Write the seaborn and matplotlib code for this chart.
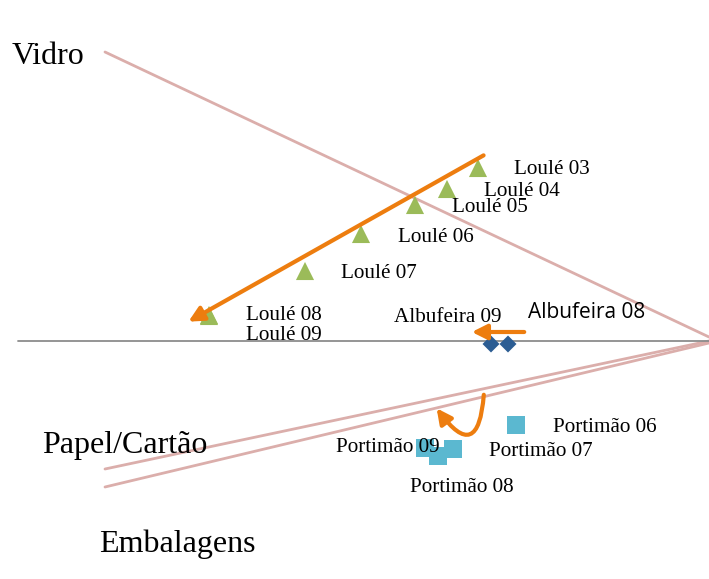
import numpy as np
import pandas as pd
import seaborn as sns
import matplotlib.pyplot as plt
from matplotlib.patches import FancyArrowPatch

# positions (pixel-like plane, y grows downwards)
loule_x = [478, 447, 415, 361, 305, 209, 209]
loule_y = [168, 189, 205, 234, 271, 315, 316]
loule_lab = ["Loulé 03", "Loulé 04", "Loulé 05", "Loulé 06", "Loulé 07", "Loulé 08", "Loulé 09"]
loule_tx = [514, 484, 452, 398, 341, 246, 246]
loule_ty = [170, 191, 207, 237, 273, 315, 336]

albu_x = [508, 491]
albu_y = [344, 344]
albu_lab = ["Albufeira 08", "Albufeira 09"]
albu_tx = [528, 394]
albu_ty = [313, 317]

port_x = [516, 453, 438, 425]
port_y = [425, 449, 456, 448]
port_lab = ["Portimão 06", "Portimão 07", "Portimão 08", "Portimão 09"]
port_tx = [553, 489, 410, 336]
port_ty = [427, 451, 487, 447]

axis_names = ["Vidro", "Papel/Cartão", "Embalagens"]
axis_tx = [12, 42, 99]
axis_ty = [57, 445, 544]

pts = pd.DataFrame({
    "x": loule_x + albu_x + port_x,
    "y": loule_y + albu_y + port_y,
    "grupo": ["Loulé"] * 7 + ["Albufeira"] * 2 + ["Portimão"] * 4,
})

sns.set_style("white")
fig = plt.figure(figsize=(7.09, 5.79), dpi=100)
ax = fig.add_axes([0, 0, 1, 1])

pink = "#dbaeab"
ax.plot([105, 709], [52, 337], color=pink, lw=2)
ax.plot([105, 709], [469, 341], color=pink, lw=2)
ax.plot([105, 709], [487, 343], color=pink, lw=2)
ax.plot([18, 709], [341, 341], color="#8c8c8c", lw=1.3)

sns.scatterplot(data=pts, x="x", y="y", hue="grupo", style="grupo", size="grupo",
                palette={"Loulé": "#9bbb59", "Albufeira": "#2c5d93", "Portimão": "#5bb8d0"},
                markers={"Loulé": "^", "Albufeira": "D", "Portimão": "s"},
                sizes={"Loulé": 170, "Albufeira": 75, "Portimão": 165},
                linewidth=0, legend=False, ax=ax, zorder=3)

orange = "#ed7d0f"
head = "-|>,head_length=6,head_width=3"
ax.add_patch(FancyArrowPatch((486, 154), (186, 323), arrowstyle=head,
                             color=orange, lw=3, mutation_scale=1.5, zorder=4))
ax.add_patch(FancyArrowPatch((527, 332), (469, 332), arrowstyle=head,
                             color=orange, lw=3, mutation_scale=1.5, zorder=4))
ax.add_patch(FancyArrowPatch((484, 392), (435, 406), connectionstyle="arc3,rad=-1.4",
                             arrowstyle=head, color=orange, lw=3, mutation_scale=1.5, zorder=4))

serif = "Liberation Serif"
for lab, tx, ty in zip(loule_lab, loule_tx, loule_ty):
    ax.text(tx, ty, lab, fontsize=15.2, family=serif, va="center", color="black", zorder=5)
ax.text(albu_tx[1], albu_ty[1], albu_lab[1], fontsize=15.2, family=serif, va="center", color="black", zorder=5)
ax.text(albu_tx[0], albu_ty[0], albu_lab[0], fontsize=15, family="Open Sans", va="center", color="black", zorder=5)
for lab, tx, ty in zip(port_lab, port_tx, port_ty):
    ax.text(tx, ty, lab, fontsize=15.2, family=serif, va="center", color="black", zorder=5)
for lab, tx, ty in zip(axis_names, axis_tx, axis_ty):
    ax.text(tx, ty, lab, fontsize=23, family=serif, va="center", color="black", zorder=5)

ax.set_xlim(0, 709)
ax.set_ylim(579, 0)
ax.axis("off")
fig.savefig("out.png", dpi=100)
